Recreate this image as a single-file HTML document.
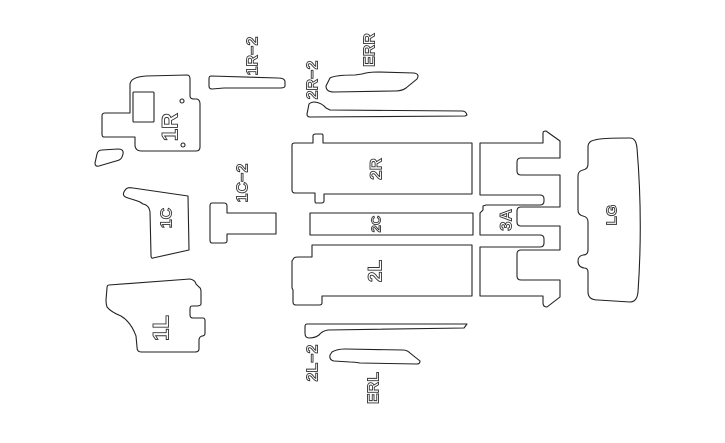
<!DOCTYPE html>
<html><head><style>html,body{margin:0;padding:0;background:#fff}svg{display:block}</style></head>
<body>
<svg width="725" height="443" viewBox="0 0 725 443" xmlns="http://www.w3.org/2000/svg">
<g fill="none" stroke="#222" stroke-width="1.1" stroke-linejoin="round">
<path d="M130 113 V84 Q131 77 146 76 L187 75 Q190 75 190 79 V96 Q190 99 194 99 L197 99 Q200 100 200 104 V147 Q200 151 196 151 H141 Q136 151 135 146 V137 H104 Q102 137 102 134 V116 Q102 113 105 113 Z"/>
<rect x="133" y="92" width="21" height="30" rx="1"/>
<circle cx="182" cy="101" r="2"/>
<circle cx="183" cy="145" r="2"/>
<path d="M102 150 L118 149 Q124 149 123 154 L122 157 Q121 160 116 161 L99 166 Q95 167 95 163 L97 154 Q98 150 102 150 Z"/>
<path d="M211 76 L278 78 Q285 78 285 82 V86 Q285 88 280 88 L224 88 L212 89 Q209 89 209 86 V79 Q209 76 211 76 Z"/>
<path d="M330 78 Q335 75 355 75 L362 74 Q368 72 378 72 L414 73 Q420 74 417 79 L406 88 Q402 91 395 91 L334 92 Q326 92 326 86 Z"/>
<path d="M309 104 Q311 102 315 102 Q322 103 326 108 L330 110 L462 111 Q466 111 467 115 L465 116 L310 117 Q307 117 307 114 Z"/>
<path d="M292 145 Q292 143 295 143 H313 V136 Q313 134 316 134 H322 Q323 134 323 136 V143 H472 V194 H324 V201 Q324 203 321 203 H316 Q315 203 315 201 V193 H295 Q292 193 292 190 Z"/>
<rect x="310" y="213" width="163" height="22"/>
<path d="M312 245 H472 V296 H322 V303 Q322 305 319 305 H296 Q293 305 293 302 V290 L292 288 V261 L294 258 Q295 257 298 257 H312 Z"/>
<path d="M480 143 H543 V133 Q543 131 546 131 L560 141 V158 H521 Q517 158 517 162 V171 Q517 175 521 175 H560 V207 H521 Q517 207 517 211 V222 Q517 226 521 226 H560 V250 H521 Q517 250 517 254 V276 Q517 280 521 280 H560 V297 L547 307 Q543 307 543 303 V296 H480 V247 H540 Q544 247 544 243 V239 Q544 235 540 235 H480 V213 L483 210 V206 L486 205 H540 Q544 205 544 201 V199 Q544 195 540 195 H480 Z"/>
<path d="M595 140 Q600 138 630 138 Q636 138 637 148 Q643 220 638 292 Q637 302 630 302 L598 300 Q588 300 588 292 V272 Q588 268 584 268 Q578 267 578 261 Q578 256 583 255 Q588 255 588 250 V222 Q588 217 583 216 Q578 215 578 210 V176 Q578 171 583 170 Q588 169 588 164 V147 Q588 141 595 140 Z"/>
<path d="M126 189 Q128 187 133 188 L188 196 L189 250 L153 258 Q151 259 151 255 L150 212 Q149 205 143 204 L140 202 Q138 201 128 198 Q120 196 126 189 Z"/>
<path d="M212 203 H224 Q227 203 227 206 V213 H276 V234 H227 V241 Q227 243 224 243 H212 Q210 243 210 240 V206 Q210 203 212 203 Z"/>
<path d="M109 285 L190 279 Q195 280 196 284 L199 287 Q201 288 201 292 V304 Q201 306 196 306 H192 Q190 306 190 309 V315 Q190 318 193 318 H203 Q205 318 205 321 V333 Q205 336 202 336 Q199 337 199 340 V349 Q199 352 195 352 H141 Q137 352 137 347 L136 336 Q131 322 121 316 Q111 312 107 307 Q106 304 106 300 L107 288 Q107 285 109 285 Z"/>
<path d="M307 324 L467 324 L464 328 L328 330 Q322 331 319 335 Q315 338 309 338 Q305 338 305 333 V327 Q305 324 307 324 Z"/>
<path d="M332 352 Q337 349 345 349 L403 350 Q407 350 410 353 L420 361 Q420 364 417 364 L360 363 Q355 362 350 362 L334 361 Q329 360 330 355 Z"/>
</g>
<g font-family="Liberation Sans, sans-serif" font-weight="bold" fill="#fff" stroke="#333" stroke-width="0.9" text-anchor="middle" dominant-baseline="central">
<text transform="translate(170,127) rotate(-90)" font-size="22">1R</text>
<text transform="translate(253,56) rotate(-90)" font-size="16">1R−2</text>
<text transform="translate(370,50) rotate(-90)" font-size="16">ERR</text>
<text transform="translate(313,80) rotate(-90)" font-size="16">2R−2</text>
<text transform="translate(376,169) rotate(-90)" font-size="17">2R</text>
<text transform="translate(376,224) rotate(-90)" font-size="13">2C</text>
<text transform="translate(376,271) rotate(-90)" font-size="19">2L</text>
<text transform="translate(506,220) rotate(-90)" font-size="17">3A</text>
<text transform="translate(612,215) rotate(-90)" font-size="15">LG</text>
<text transform="translate(167,218) rotate(-90)" font-size="16">1C</text>
<text transform="translate(243,183) rotate(-90)" font-size="16">1C−2</text>
<text transform="translate(161,328) rotate(-90)" font-size="22">1L</text>
<text transform="translate(313,363) rotate(-90)" font-size="16">2L−2</text>
<text transform="translate(374,388) rotate(-90)" font-size="16">ERL</text>
</g>
</svg>
</body></html>
